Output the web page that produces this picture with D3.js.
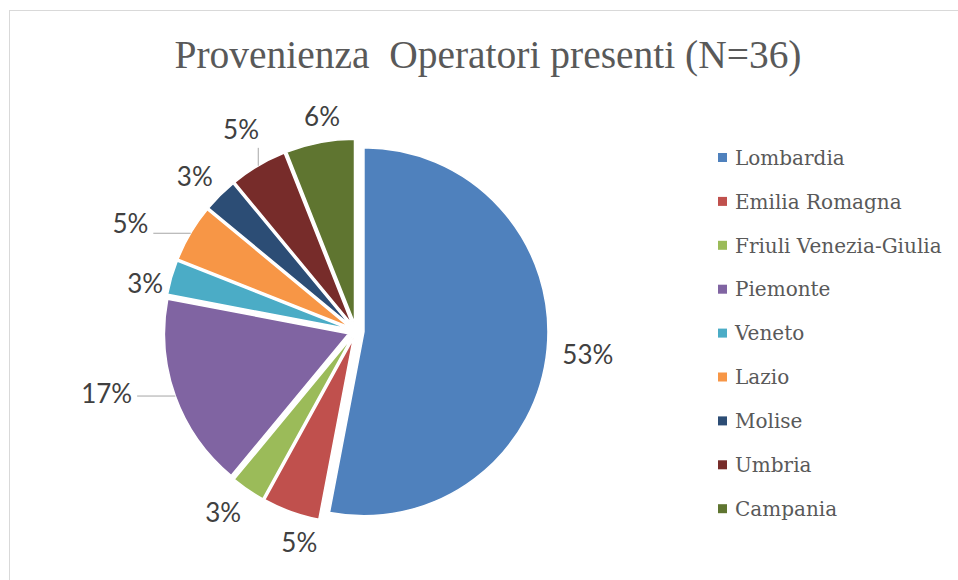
<!DOCTYPE html>
<html lang="it">
<head>
<meta charset="utf-8">
<title>Provenienza Operatori presenti</title>
<script src="https://cdn.jsdelivr.net/npm/d3@7"></script>
<style>
  body { margin: 0; background: #fff; }
  svg { display: block; }
</style>
</head>
<body>
<script>
// data, in percent, as typed in the sheet
var regions = ["Lombardia", "Emilia Romagna", "Friuli Venezia-Giulia", "Piemonte",
               "Veneto", "Lazio", "Molise", "Umbria", "Campania"];
var shares = [53, 5, 3, 17, 3, 5, 3, 5, 6];
var colours = ["#4f81bd", "#c0504d", "#9bbb59", "#8064a2", "#4bacc6",
               "#f79646", "#2c4d75", "#772c2a", "#5f7530"];

var w = 958, h = 580;
var cx = 356, cy = 331;
var radius = 184;
var explode = 8;

// best-fit label placement: turn from slice middle (deg), distance from centre
var labelTurn = [0.3, -4.8, 2, 5.8, -3.6, -5.1, -1.3, 0.9, 1.8];
var labelDist = [233, 219, 225, 257, 216, 250, 223, 232, 217];
var withLeader = ["Piemonte", "Lazio", "Umbria"];

var svg = d3.select("body").append("svg")
    .attr("width", w)
    .attr("height", h);

// chart area border
svg.append("rect")
    .attr("x", 9.5).attr("y", 10.5)
    .attr("width", 1000).attr("height", 1000)
    .attr("fill", "#fff")
    .attr("stroke", "#d9d9d9");

svg.append("text")
    .attr("x", 488).attr("y", 68)
    .attr("text-anchor", "middle")
    .attr("font-family", "Liberation Serif")
    .attr("font-size", 40)
    .attr("fill", "#595959")
    .attr("textLength", 627)
    .attr("lengthAdjust", "spacingAndGlyphs")
    .style("white-space", "pre")
    .text("Provenienza  Operatori presenti (N=36)");

var pie = d3.pie().sort(null).value(function(d) { return d; });
var arcs = pie(shares);
var arc = d3.arc().innerRadius(0).outerRadius(radius);

function dir(a) { return [Math.sin(a), -Math.cos(a)]; }

var g = svg.append("g").attr("transform", "translate(" + cx + "," + cy + ")");

g.selectAll("path")
    .data(arcs)
    .enter()
    .append("path")
    .attr("d", arc)
    .attr("transform", function(d) {
        var v = dir((d.startAngle + d.endAngle) / 2);
        return "translate(" + v[0] * explode + "," + v[1] * explode + ")";
    })
    .attr("fill", function(d, i) { return colours[i]; })
    .attr("stroke", "#fff")
    .attr("stroke-width", 1.5);

// data labels
var labels = g.selectAll("text.lbl")
    .data(arcs)
    .enter()
    .append("text")
    .attr("class", "lbl")
    .attr("font-family", "Lato")
    .attr("font-size", 26)
    .attr("fill", "#404040")
    .attr("text-anchor", "middle")
    .attr("dy", "0.36em")
    .attr("x", function(d, i) {
        var a = (d.startAngle + d.endAngle) / 2 + labelTurn[i] * Math.PI / 180;
        return dir(a)[0] * labelDist[i];
    })
    .attr("y", function(d, i) {
        var a = (d.startAngle + d.endAngle) / 2 + labelTurn[i] * Math.PI / 180;
        return dir(a)[1] * labelDist[i];
    })
    .text(function(d) { return d.data + "%"; });

// leader lines for labels pushed away from their slice
labels.each(function(d, i) {
    if (withLeader.indexOf(regions[i]) < 0) return;
    var b = this.getBBox();
    var v = dir((d.startAngle + d.endAngle) / 2);
    var px = v[0] * (radius + explode), py = v[1] * (radius + explode);
    var qx = Math.max(b.x - 5, Math.min(px, b.x + b.width + 5));
    var qy = Math.max(b.y - 3, Math.min(py, b.y + b.height + 3));
    g.append("line")
        .attr("x1", px).attr("y1", py)
        .attr("x2", qx).attr("y2", qy)
        .attr("stroke", "#a6a6a6")
        .attr("stroke-width", 1);
});

// legend
var legend = svg.append("g").attr("transform", "translate(718,157.5)");
var rows = legend.selectAll("g")
    .data(regions)
    .enter()
    .append("g")
    .attr("transform", function(d, i) { return "translate(0," + i * 43.9 + ")"; });

rows.append("rect")
    .attr("x", 0).attr("y", -4.5)
    .attr("width", 9).attr("height", 9)
    .attr("fill", function(d, i) { return colours[i]; });

rows.append("text")
    .attr("x", 17)
    .attr("dy", "0.36em")
    .attr("font-family", "DejaVu Serif")
    .attr("font-size", 20)
    .attr("fill", "#595959")
    .text(function(d) { return d; });
</script>
</body>
</html>
